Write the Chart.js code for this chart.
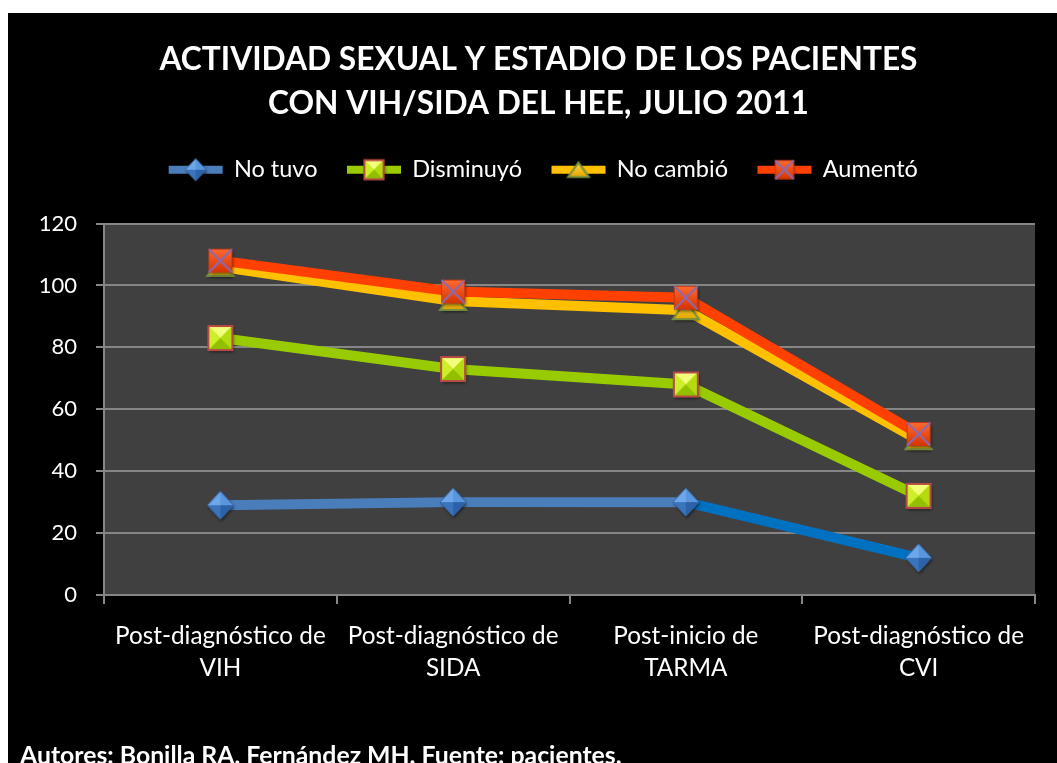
<!DOCTYPE html>
<html>
<head>
<meta charset="utf-8">
<script src="https://cdn.jsdelivr.net/npm/chart.js@4.4.0/dist/chart.umd.min.js"></script>
<style>
  html, body { margin: 0; background: #fff; }
  #wrap { position: absolute; left: 8px; top: 13px; width: 1049px; height: 750px; background: #000; overflow: hidden; }
  #footer { position: absolute; left: 12px; top: 727px; color: #fff; font: bold 24.8px/30px Lato, sans-serif; white-space: nowrap; }
</style>
</head>
<body>
<div id="wrap">
  <canvas id="chart" width="1049" height="750"></canvas>
  <div id="footer">Autores: Bonilla RA, Fernández MH. Fuente: pacientes.</div>
</div>
<script>
const categories = [
    ["Post-diagnóstico de", "VIH"],
    ["Post-diagnóstico de", "SIDA"],
    ["Post-inicio de", "TARMA"],
    ["Post-diagnóstico de", "CVI"],
];
const seriesNames = ["No tuvo", "Disminuyó", "No cambió", "Aumentó"];
// values as plotted (cumulative)
const noTuvo = [29, 30, 30, 12];
const disminuyo = [83, 73, 68, 32];
const noCambio = [106, 95, 92, 50];
const aumento = [108, 98, 96, 52];
const yMin = 0, yMax = 120, yStep = 20;

const titleLines = ["ACTIVIDAD SEXUAL Y ESTADIO DE LOS PACIENTES", "CON VIH/SIDA DEL HEE, JULIO 2011"];

function makeCanvas(w, h, draw) {
    const c = document.createElement("canvas");
    c.width = w;
    c.height = h;
    draw(c.getContext("2d"), w, h);
    return c;
}

function tri(ctx, a, b, c, color) {
    ctx.beginPath();
    ctx.moveTo(a[0], a[1]);
    ctx.lineTo(b[0], b[1]);
    ctx.lineTo(c[0], c[1]);
    ctx.closePath();
    ctx.fillStyle = color;
    ctx.fill();
}

function shadowed(ctx, path, fill) {
    ctx.save();
    ctx.shadowColor = "rgba(0,0,0,0.55)";
    ctx.shadowBlur = 3;
    ctx.shadowOffsetX = 1;
    ctx.shadowOffsetY = 2;
    path();
    ctx.fillStyle = fill;
    ctx.fill();
    ctx.restore();
}

function drawDiamond(ctx, cx, cy, w, h) {
    const t = [cx, cy - h / 2], r = [cx + w / 2, cy], b = [cx, cy + h / 2], l = [cx - w / 2, cy], c = [cx, cy];
    const outline = () => {
        ctx.beginPath();
        ctx.moveTo(t[0], t[1]); ctx.lineTo(r[0], r[1]); ctx.lineTo(b[0], b[1]); ctx.lineTo(l[0], l[1]);
        ctx.closePath();
    };
    shadowed(ctx, outline, "#3d78c2");
    tri(ctx, l, t, c, "#6ea6ea");
    tri(ctx, t, r, c, "#5a96dd");
    tri(ctx, r, b, c, "#2c62a8");
    tri(ctx, b, l, c, "#3a74bd");
    outline();
    ctx.strokeStyle = "#3766a2";
    ctx.lineWidth = 1;
    ctx.stroke();
}

function drawPyramidSquare(ctx, cx, cy, s) {
    const x0 = cx - s / 2, y0 = cy - s / 2, x1 = cx + s / 2, y1 = cy + s / 2, c = [cx, cy];
    shadowed(ctx, () => { ctx.beginPath(); ctx.rect(x0, y0, s, s); }, "#b3db0e");
    tri(ctx, [x0, y0], [x1, y0], c, "#f2ff7a");
    tri(ctx, [x0, y0], [x0, y1], c, "#cdef2a");
    tri(ctx, [x1, y0], [x1, y1], c, "#b3db0e");
    tri(ctx, [x0, y1], [x1, y1], c, "#92c000");
    ctx.strokeStyle = "#b84a45";
    ctx.lineWidth = 2;
    ctx.strokeRect(x0, y0, s, s);
}

function drawTriangle(ctx, cx, cy, w, h) {
    const g = ctx.createLinearGradient(0, cy - h / 2, 0, cy + h / 2);
    g.addColorStop(0, "#ffd84a");
    g.addColorStop(1, "#e2a600");
    const path = () => {
        ctx.beginPath();
        ctx.moveTo(cx, cy - h / 2);
        ctx.lineTo(cx + w / 2, cy + h / 2);
        ctx.lineTo(cx - w / 2, cy + h / 2);
        ctx.closePath();
    };
    shadowed(ctx, path, g);
    path();
    ctx.strokeStyle = "#77903c";
    ctx.lineWidth = 2;
    ctx.stroke();
}

function drawCrossSquare(ctx, cx, cy, s) {
    const x0 = cx - s / 2, y0 = cy - s / 2;
    const g = ctx.createLinearGradient(0, y0, 0, y0 + s);
    g.addColorStop(0, "#ff6a30");
    g.addColorStop(1, "#d83400");
    shadowed(ctx, () => { ctx.beginPath(); ctx.rect(x0, y0, s, s); }, g);
    ctx.strokeStyle = "#c03a18";
    ctx.lineWidth = 1;
    ctx.strokeRect(x0, y0, s, s);
    ctx.beginPath();
    ctx.moveTo(x0, y0); ctx.lineTo(x0 + s, y0 + s);
    ctx.moveTo(x0 + s, y0); ctx.lineTo(x0, y0 + s);
    ctx.strokeStyle = "#8a6ab4";
    ctx.lineWidth = 2;
    ctx.stroke();
}

const markerDrawers = [
    (ctx, cx, cy, k) => drawDiamond(ctx, cx, cy, 26 * k, 28 * k),
    (ctx, cx, cy, k) => drawPyramidSquare(ctx, cx, cy, 24 * k),
    (ctx, cx, cy, k) => drawTriangle(ctx, cx, cy, 26 * k, 18 * k),
    (ctx, cx, cy, k) => drawCrossSquare(ctx, cx, cy, 23 * k),
];
const lineColors = ["#4a7ebb", "#99cc00", "#ffc000", "#ff4000"];

const markers = markerDrawers.map((fn) => makeCanvas(36, 36, (ctx, w, h) => fn(ctx, w / 2, h / 2, 1)));
const legendIcons = markerDrawers.map((fn, i) => makeCanvas(58, 30, (ctx, w, h) => {
    ctx.fillStyle = lineColors[i];
    ctx.fillRect(2, h / 2 - 4, w - 4, 8);
    fn(ctx, w / 2, h / 2, 0.8);
}));

const seriesValues = [noTuvo, disminuyo, noCambio, aumento];

const plotBackground = {
    id: "plotBackground",
    beforeDraw(chart) {
        const { ctx, chartArea } = chart;
        ctx.save();
        ctx.fillStyle = "#404040";
        ctx.fillRect(chartArea.left, chartArea.top, chartArea.right - chartArea.left, chartArea.bottom - chartArea.top);
        ctx.restore();
    },
};

const legendSpacer = {
    id: "legendSpacer",
    beforeInit(chart) {
        const fit = chart.legend.fit;
        chart.legend.fit = function () {
            fit.bind(chart.legend)();
            this.height += 32;
        };
    },
    afterLayout(chart) {
        // legend sits a little right of the title in the original
        chart.legend.left += 5;
        chart.legend.right += 5;
    },
};

Chart.defaults.font.family = "Lato, sans-serif";
Chart.defaults.color = "#fff";

new Chart(document.getElementById("chart"), {
    type: "line",
    data: {
        labels: categories,
        datasets: seriesNames.map((name, i) => ({
            label: name,
            data: seriesValues[i],
            borderColor: lineColors[i],
            backgroundColor: lineColors[i],
            borderWidth: 10,
            tension: 0,
            pointStyle: markers[i],
            pointRadius: 12,
            order: 3 - i,
            segment: i === 0 ? { borderColor: (c) => (c.p0DataIndex === 2 ? "#0070c0" : "#4a7ebb") } : undefined,
        })),
    },
    options: {
        responsive: false,
        animation: false,
        layout: { padding: { left: 32, right: 20, top: 0, bottom: 0 } },
        plugins: {
            title: {
                display: true,
                text: titleLines,
                color: "#fff",
                font: { size: 31.7, weight: "bold", lineHeight: 44 / 31.7 },
                padding: { top: 25, bottom: 2 },
            },
            legend: {
                labels: {
                    color: "#fff",
                    font: { size: 23.5 },
                    padding: 30,
                    usePointStyle: true,
                    pointStyleWidth: 53,
                    generateLabels: (chart) => chart.data.datasets.map((ds, i) => ({
                        text: ds.label,
                        pointStyle: legendIcons[i],
                        fillStyle: lineColors[i],
                        strokeStyle: lineColors[i],
                        lineWidth: 0,
                        hidden: false,
                        datasetIndex: i,
                        fontColor: "#fff",
                    })),
                },
            },
            tooltip: { enabled: false },
        },
        scales: {
            x: {
                offset: true,
                grid: { drawOnChartArea: false, drawTicks: true, tickLength: 9, color: "#868686", lineWidth: 2, offset: true },
                border: { color: "#868686", width: 2 },
                ticks: { color: "#fff", font: { size: 24.3, lineHeight: 32 / 24.3 }, padding: 16, maxRotation: 0, autoSkip: false },
                afterFit: (s) => { s.height = 168; },
            },
            y: {
                min: yMin,
                max: yMax,
                ticks: { stepSize: yStep, color: "#fff", font: { size: 22 }, padding: 19 },
                grid: { color: "#868686", lineWidth: 2, tickLength: 8 },
                border: { color: "#868686", width: 2 },
                afterFit: (s) => { s.width = 64; },
            },
        },
    },
    plugins: [plotBackground, legendSpacer],
});
</script>
</body>
</html>
